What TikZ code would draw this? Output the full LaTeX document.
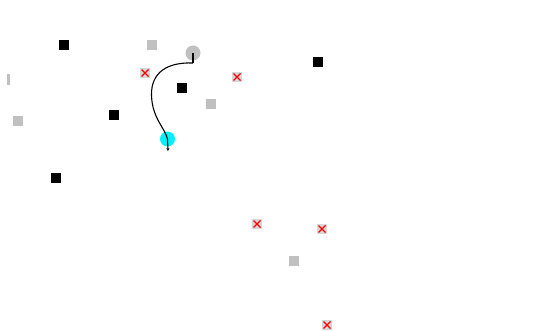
\documentclass[tikz,border=0pt]{standalone}
\usetikzlibrary{arrows.meta}
\definecolor{lgray}{RGB}{192,192,192}
\definecolor{xbg}{RGB}{215,215,215}
\definecolor{cyanpt}{RGB}{0,240,255}
\tikzset{
  blk/.style={rectangle,fill=black,minimum size=10pt,inner sep=0pt},
  gry/.style={rectangle,fill=lgray,minimum size=10pt,inner sep=0pt},
  xmark/.style={rectangle,fill=xbg,minimum size=10pt,inner sep=0pt,
    path picture={\draw[red,line width=1.1pt]
      (path picture bounding box.south west) ++(1.5pt,1.5pt) -- ++(7pt,7pt)
      (path picture bounding box.north west) ++(1.5pt,-1.5pt) -- ++(7pt,-7pt);}},
  dot/.style={circle,minimum size=15pt,inner sep=0pt},
  trail/.style={draw=black,line width=1.1pt}
}
\begin{document}
\begin{tikzpicture}[x=1pt,y=-1pt]
\useasboundingbox[fill=white] (0,0) rectangle (534,331);
% black squares
\node[blk] (b1) at (64,45) {};
\node[blk] (b2) at (182,88) {};
\node[blk] (b3) at (114,115) {};
\node[blk] (b4) at (56,178) {};
\node[blk] (b5) at (318,62) {};
% gray squares
\node[gry] (g1) at (152,45) {};
\node[gry] (g2) at (211,104) {};
\node[gry] (g3) at (18,121) {};
\node[gry] (g4) at (294,261) {};
\node[rectangle,fill=lgray,minimum width=3pt,minimum height=11pt,inner sep=0pt] (g5) at (8.5,80) {};
% red crosses
\node[xmark] (x1) at (145,73) {};
\node[xmark] (x2) at (237,77) {};
\node[xmark] (x3) at (257,224) {};
\node[xmark] (x4) at (322,229) {};
\node[xmark] (x5) at (327,325) {};
% start / end points
\node[dot,fill=lgray] (s) at (193,53) {};
\node[dot,fill=cyanpt] (e) at (167.5,139) {};
\coordinate (st) at (193,63);
\coordinate (et) at (168,151);
\draw[trail] (s.center) -- (st);
\draw[trail] (st) .. controls (168,62) and (151,72) .. (151.5,95)
  .. controls (152,118) and (165,128) .. (e.center);
\draw[trail,-{Stealth[length=3pt,width=3pt]}] (e.center) -- (et);
\end{tikzpicture}
\end{document}
